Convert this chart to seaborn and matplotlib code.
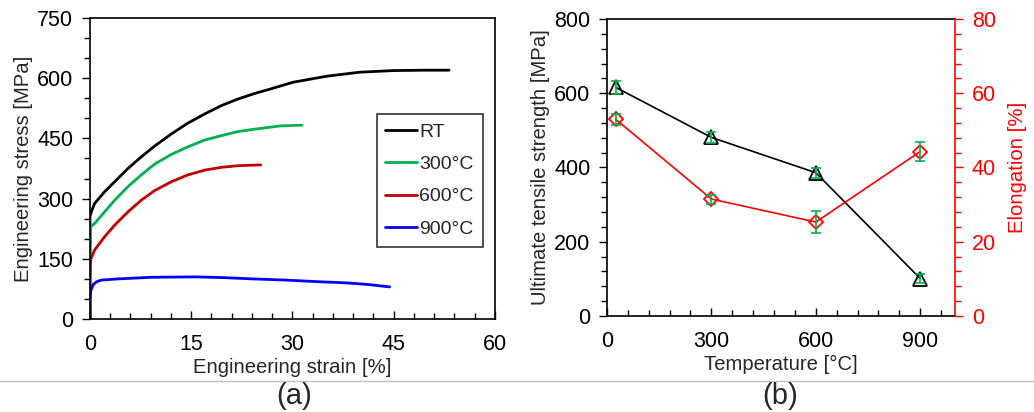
import numpy as np
import pandas as pd
import matplotlib
matplotlib.use("Agg")
import matplotlib.pyplot as plt
from matplotlib.ticker import MultipleLocator
from matplotlib.lines import Line2D
import seaborn as sns

# (a) engineering stress-strain curves
rt_strain = [0.0, 0.0, 0.2, 0.69, 2.17, 3.66, 5.63, 7.6, 9.58, 12.05, 14.5, 17.0, 19.5, 21.9,
             24.4, 26.3, 30.1, 35.1, 40.0, 44.9, 49.9, 53.2]
rt_stress = [0, 255, 267, 288, 317, 342, 375, 404, 431, 461, 488, 511, 532, 548,
             562, 571, 590, 605, 615, 619, 620, 620]
c300_strain = [0.0, 0.0, 0.1, 0.69, 2.17, 3.66, 5.63, 7.6, 9.58, 12.05, 14.5, 17.0, 19.5, 21.9,
               24.4, 26.3, 28.1, 31.4]
c300_stress = [0, 150, 230, 238, 267, 296, 330, 359, 386, 410, 429, 446, 457, 467,
               473, 477, 481, 483]
c600_strain = [0.0, 0.0, 0.1, 0.69, 2.17, 3.66, 5.63, 7.6, 9.58, 12.05, 14.5, 17.0, 19.5, 21.9, 25.3]
c600_stress = [0, 100, 148, 172, 205, 234, 267, 296, 320, 342, 359, 371, 378, 382, 384]
c900_strain = [0.0, 0.0, 0.15, 0.5, 1.0, 1.7, 4.2, 9.1, 15.6, 20.0, 24.0, 29.0, 33.8, 38.0, 41.2, 44.4]
c900_stress = [0, 50, 72, 86, 93, 97, 100, 104, 105, 103, 100, 97, 93, 90, 86, 80]
curve_labels = ["RT", "300°C", "600°C", "900°C"]
curve_colors = ["#000000", "#00b050", "#c00000", "#0000ff"]

# (b) UTS and elongation vs temperature
temps = [25, 300, 600, 900]
uts = [616, 481, 386, 101]
uts_err = [18, 15, 13, 12]
elong = [53.0, 31.5, 25.3, 44.3]
elong_err = [1.5, 1.2, 3.0, 2.5]

sns.set_theme(style="white")
plt.rcParams["font.family"] = ["Liberation Sans", "DejaVu Sans"]

TICK_FS = 15.5
LAB_FS = 14.6

fig = plt.figure(figsize=(10.34, 4.12), dpi=100)
ax1 = fig.add_axes([0.0870, 0.2257, 0.3917, 0.7306])
ax2 = fig.add_axes([0.5870, 0.2330, 0.3366, 0.7209])

frames = []
for lab, xs, ys in zip(curve_labels,
                       [rt_strain, c300_strain, c600_strain, c900_strain],
                       [rt_stress, c300_stress, c600_stress, c900_stress]):
    frames.append(pd.DataFrame({"strain": xs, "stress": ys, "curve": lab}))
curves = pd.concat(frames, ignore_index=True)

sns.lineplot(data=curves, x="strain", y="stress", hue="curve", hue_order=curve_labels,
             palette=curve_colors, sort=False, estimator=None, lw=2.0, ax=ax1, legend=False)

ax1.set_xlim(0, 60)
ax1.set_ylim(0, 750)
ax1.xaxis.set_major_locator(MultipleLocator(15))
ax1.xaxis.set_minor_locator(MultipleLocator(3))
ax1.yaxis.set_major_locator(MultipleLocator(150))
ax1.yaxis.set_minor_locator(MultipleLocator(50))
ax1.set_xlabel("Engineering strain [%]", fontsize=LAB_FS, labelpad=2)
ax1.set_ylabel("Engineering stress [MPa]", fontsize=LAB_FS, labelpad=3)

handles = [Line2D([], [], color=c, lw=2.0) for c in curve_colors]
leg = ax1.legend(handles, curve_labels, loc="upper left", bbox_to_anchor=(0.708, 0.68),
                 fontsize=14, frameon=True, fancybox=False, handlelength=1.6,
                 handletextpad=0.15, borderpad=0.45, labelspacing=0.76, borderaxespad=0)
leg.get_frame().set_edgecolor("black")
leg.get_frame().set_linewidth(1.2)

# (b)
sns.lineplot(x=temps, y=uts, color="black", lw=1.2, marker="^", markersize=10,
             markerfacecolor="none", markeredgecolor="black", markeredgewidth=1.3, ax=ax2)
ax2.errorbar(temps, uts, yerr=uts_err, fmt="none", ecolor="#00b050", elinewidth=1.2,
             capsize=3.5, capthick=1.2, zorder=5)
ax2.set_xlim(0, 1000)
ax2.set_ylim(0, 800)
ax2.xaxis.set_major_locator(MultipleLocator(300))
ax2.xaxis.set_minor_locator(MultipleLocator(60))
ax2.yaxis.set_major_locator(MultipleLocator(200))
ax2.yaxis.set_minor_locator(MultipleLocator(40))
ax2.set_xlabel("Temperature [°C]", fontsize=LAB_FS, labelpad=2)
ax2.set_ylabel("Ultimate tensile strength [MPa]", fontsize=LAB_FS, labelpad=3)

ax3 = ax2.twinx()
sns.lineplot(x=temps, y=elong, color="#ff0000", lw=1.2, marker="D", markersize=7.5,
             markerfacecolor="none", markeredgecolor="#ff0000", markeredgewidth=1.3, ax=ax3)
ax3.errorbar(temps, elong, yerr=elong_err, fmt="none", ecolor="#00b050", elinewidth=1.2,
             capsize=3.5, capthick=1.2, zorder=5)
ax3.set_ylim(0, 80)
ax3.yaxis.set_major_locator(MultipleLocator(20))
ax3.yaxis.set_minor_locator(MultipleLocator(4))
ax3.set_ylabel("Elongation [%]", color="#ff0000", fontsize=LAB_FS, labelpad=9)
ax3.tick_params(axis="y", which="both", colors="#ff0000", labelcolor="#ff0000",
                direction="out", labelsize=TICK_FS, pad=6)
ax3.tick_params(axis="y", which="major", length=6, width=1)
ax3.tick_params(axis="y", which="minor", length=4, width=1)
ax3.spines["right"].set_color("#ff0000")
ax3.spines["right"].set_linewidth(1.2)
for s in ["left", "top", "bottom"]:
    ax3.spines[s].set_visible(False)

for ax in (ax1, ax2):
    for s in ax.spines.values():
        s.set_color("black")
        s.set_linewidth(1.2)
    ax.tick_params(axis="x", which="both", direction="in", bottom=True, top=False,
                   labelsize=TICK_FS, pad=11, colors="black")
    ax.tick_params(axis="y", which="both", direction="out", left=True, right=False,
                   labelsize=TICK_FS, pad=6, colors="black")
    ax.tick_params(which="major", length=6, width=1)
    ax.tick_params(which="minor", length=4, width=1)
    ax.grid(False)
ax2.spines["right"].set_visible(False)

# separator line and panel captions
fig.add_artist(Line2D([0.0, 1.0], [1 - 381 / 412, 1 - 381 / 412], color="#c0c0c0", lw=1.0))
fig.text(294 / 1034, 1 - 396 / 412, "(a)", ha="center", va="center", fontsize=21)
fig.text(780 / 1034, 1 - 396 / 412, "(b)", ha="center", va="center", fontsize=21)

fig.savefig("out.png", dpi=100, facecolor="white")
